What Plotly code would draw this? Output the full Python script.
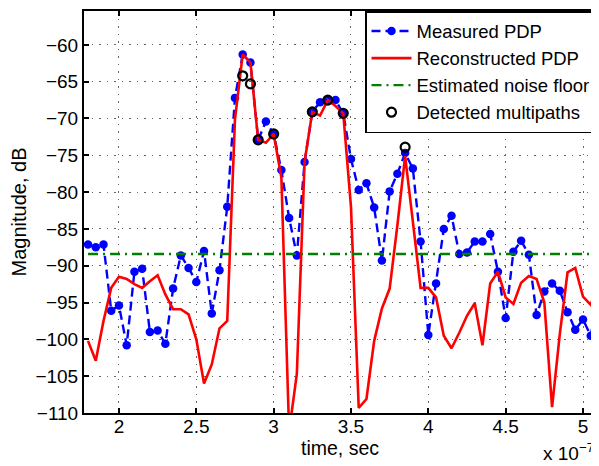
import plotly.graph_objects as go

# time in units of 1e-7 s
t = [1.80, 1.85, 1.90, 1.95, 2.00, 2.05, 2.10, 2.15, 2.20, 2.25,
     2.30, 2.35, 2.40, 2.45, 2.50, 2.55, 2.60, 2.65, 2.70, 2.75,
     2.80, 2.85, 2.90, 2.95, 3.00, 3.05, 3.10, 3.15, 3.20, 3.25,
     3.30, 3.35, 3.40, 3.45, 3.50, 3.55, 3.60, 3.65, 3.70, 3.75,
     3.80, 3.85, 3.90, 3.95, 4.00, 4.05, 4.10, 4.15, 4.20, 4.25,
     4.30, 4.35, 4.40, 4.45, 4.50, 4.55, 4.60, 4.65, 4.70, 4.75,
     4.80, 4.85, 4.90, 4.95, 5.00, 5.05, 5.10]

measured_pdp = [-87.1, -87.5, -87.1, -96.1, -95.4, -100.8, -90.8, -90.4, -99.0, -98.8,
                -100.6, -93.1, -88.6, -90.3, -92.2, -88.0, -96.5, -90.6, -82.0, -67.2,
                -61.3, -62.4, -72.9, -70.4, -72.1, -77.0, -83.5, -88.6, -75.9, -69.1,
                -67.8, -67.5, -67.5, -69.3, -75.5, -79.7, -78.8, -82.1, -89.3, -79.9,
                -77.5, -74.7, -76.8, -86.7, -99.4, -92.4, -85.0, -83.2, -88.4, -88.2,
                -86.7, -86.7, -85.7, -90.8, -97.1, -88.1, -86.6, -88.5, -96.7, -93.5,
                -92.4, -93.4, -96.3, -98.7, -97.3, -99.5, -93.8]

reconstructed_pdp = [-100.2, -102.9, -97.5, -93.0, -91.5, -91.8, -92.5, -93.0, -92.1, -91.3,
                     -93.9, -95.9, -95.9, -96.6, -100.0, -106.0, -103.4, -98.5, -97.5, -70.1,
                     -61.3, -62.4, -72.9, -73.3, -72.1, -78.0, -112.5, -104.7, -75.9, -69.1,
                     -69.6, -67.5, -68.3, -69.3, -82.0, -109.3, -108.1, -100.2, -95.8, -93.1,
                     -84.5, -75.1, -84.0, -93.0, -93.0, -94.3, -99.5, -101.2, -99.1, -96.8,
                     -95.1, -100.8, -92.4, -90.8, -94.3, -95.2, -92.3, -91.4, -91.8, -95.0,
                     -109.2, -99.3, -90.9, -90.3, -94.2, -95.3, -92.3]

noise_floor_db = -88.4

multipath_t = [2.80, 2.85, 2.90, 3.00, 3.25, 3.35, 3.45, 3.85]
multipath_db = [-64.2, -65.3, -72.9, -72.1, -69.1, -67.5, -69.3, -73.9]

x_tick_vals = [2, 2.5, 3, 3.5, 4, 4.5, 5]
x_tick_text = ["2", "2.5", "3", "3.5", "4", "4.5", "5"]
y_tick_vals = [-110, -105, -100, -95, -90, -85, -80, -75, -70, -65, -60]

FONT = "Liberation Sans, Arial, Helvetica, sans-serif"

fig = go.Figure()
fig.add_trace(go.Scatter(
    x=t, y=measured_pdp, name="Measured PDP", mode="lines+markers",
    line=dict(color="#0000ff", width=2.4, dash="9px,5px"),
    marker=dict(color="#0000ff", size=8.5, symbol="circle"),
))
fig.add_trace(go.Scatter(
    x=t, y=reconstructed_pdp, name="Reconstructed PDP", mode="lines",
    line=dict(color="#ff0000", width=2.6),
))
fig.add_trace(go.Scatter(
    x=t, y=[noise_floor_db] * len(t), name="Estimated noise floor", mode="lines",
    line=dict(color="#008000", width=2.4, dash="10px,5px,2px,5px"),
))
fig.add_trace(go.Scatter(
    x=multipath_t, y=multipath_db, name="Detected multipaths", mode="markers",
    marker=dict(symbol="circle-open", size=9, color="black", line=dict(width=2.2, color="black")),
))

axis_common = dict(
    showline=True, linecolor="black", linewidth=2, mirror="allticks",
    ticks="inside", ticklen=5, tickwidth=1.5, tickcolor="black",
    showgrid=True, gridcolor="#666666", gridwidth=1, griddash="1.5px,6px",
    zeroline=False, tickfont=dict(family=FONT, size=19, color="black"),
)

fig.update_xaxes(range=[1.774, 5.084], tickvals=x_tick_vals, ticktext=x_tick_text,
                 ticklabelstandoff=-5,
                 title=dict(text="time, sec", font=dict(family=FONT, size=19.5, color="black"), standoff=4),
                 **axis_common)
fig.update_yaxes(range=[-110, -55.4], tickvals=y_tick_vals,
                 title=dict(text="Magnitude, dB", font=dict(family=FONT, size=20, color="black"), standoff=8),
                 **axis_common)

fig.add_annotation(text="x 10<sup>−7</sup>", xref="paper", yref="paper",
                   x=1.0, y=-0.131, xanchor="right", yanchor="bottom", showarrow=False,
                   font=dict(family=FONT, size=19, color="black"))

# page body adds an 8px offset; figure is sized/margined to compensate
fig.update_layout(
    width=591, height=458,
    margin=dict(l=76, r=3, t=1, b=53),
    paper_bgcolor="white", plot_bgcolor="white",
    font=dict(family=FONT, size=19, color="black"),
    legend=dict(x=1, y=1, xanchor="right", yanchor="top",
                bgcolor="white", bordercolor="black", borderwidth=1.5,
                font=dict(family=FONT, size=18.5, color="black"),
                itemwidth=40, tracegroupgap=0),
    showlegend=True,
)

fig.write_html("out.html")
